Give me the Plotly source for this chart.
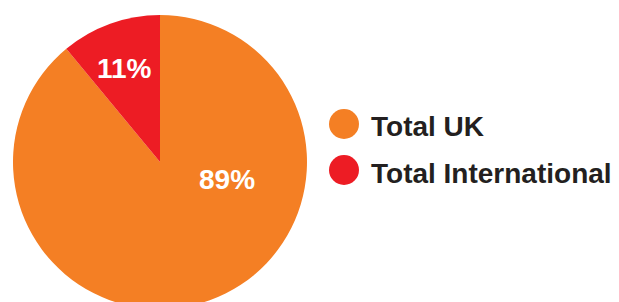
import plotly.graph_objects as go

categories = ["Total UK", "Total International"]
values = [89, 11]
labels_text = ["89%", "11%"]
colors = ["#F47F24", "#ED1C24"]

W, H = 619, 302
FONT = "Liberation Sans, Arial, sans-serif"
TEXT_DARK = "#231F20"

# pie geometry (figure pixels; page body adds an 8px offset)
cx, cy, r = 152, 154, 147

fig = go.Figure()
fig.add_trace(go.Pie(
    labels=categories, values=values, sort=False, direction="clockwise", rotation=0,
    marker=dict(colors=colors, line=dict(width=0)),
    textinfo="none", hoverinfo="label+percent", showlegend=False,
    domain=dict(x=[(cx - r) / W, (cx + r) / W], y=[(H - cy - r) / H, (H - cy + r) / H]),
))

# slice labels
label_pos = [(219, 171), (116, 60)]
for txt, (px, py) in zip(labels_text, label_pos):
    fig.add_annotation(x=px / W, y=1 - py / H, xref="paper", yref="paper", text=f"<b>{txt}</b>",
                       showarrow=False, font=dict(family=FONT, size=28, color="white"),
                       xanchor="center", yanchor="middle")

# custom legend
marker_y = [116, 162]
text_y = [121, 167.5]
fig.add_trace(go.Scatter(x=[336] * len(categories), y=marker_y, mode="markers",
                         marker=dict(size=30, color=colors, line=dict(width=0)),
                         showlegend=False, hoverinfo="skip"))
fig.add_trace(go.Scatter(x=[363] * len(categories), y=text_y, mode="text",
                         text=[f"<b>{c}</b>" for c in categories], textposition="middle right",
                         textfont=dict(family=FONT, size=28, color=TEXT_DARK),
                         showlegend=False, hoverinfo="skip"))

fig.update_layout(
    width=W, height=H, margin=dict(l=0, r=0, t=0, b=0),
    paper_bgcolor="white", plot_bgcolor="rgba(0,0,0,0)",
    xaxis=dict(range=[0, W], visible=False, fixedrange=True),
    yaxis=dict(range=[H, 0], visible=False, fixedrange=True),
    showlegend=False,
)
fig.write_html("out.html")
